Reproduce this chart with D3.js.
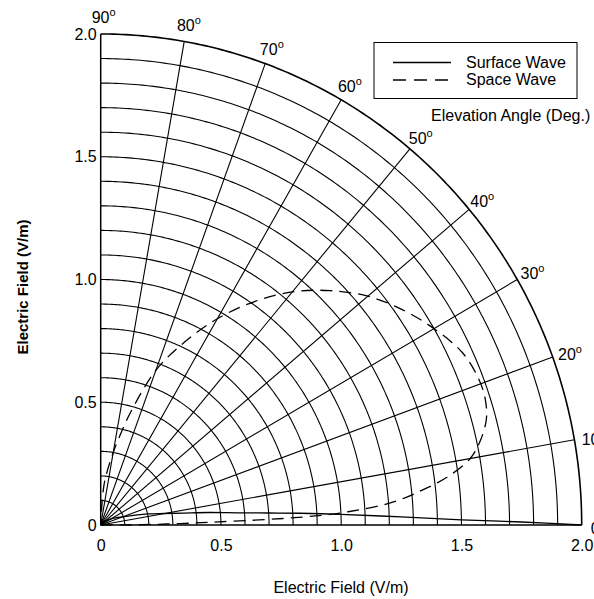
<!DOCTYPE html>
<html>
<head>
<meta charset="utf-8">
<script src="https://cdn.jsdelivr.net/npm/d3@7"></script>
<style>
  body { margin: 0; background: #fff; }
  svg { display: block; }
  text { font-family: "Liberation Sans", Arial, sans-serif; fill: #000; }
</style>
</head>
<body>
<svg id="chart" width="594" height="599"></svg>
<script>
// Elevation angles (degrees) and field strengths (V/m) for the two waves
const spaceAngles = [0, 0.5, 1, 1.5, 2, 2.5, 3, 4, 5, 6, 7, 8, 10, 12, 15, 18, 21, 25, 30, 35, 40, 45, 50, 55, 60, 65, 70, 75, 78, 80, 85, 90];
const spaceField  = [0, 0.17, 0.33, 0.49, 0.76, 0.93, 1.03, 1.18, 1.27, 1.34, 1.41, 1.47, 1.56, 1.61, 1.66, 1.68, 1.68, 1.66, 1.60, 1.53, 1.45, 1.35, 1.24, 1.11, 0.97, 0.82, 0.67, 0.47, 0.36, 0.30, 0.17, 0];

const surfaceAngles = [0, 0.4, 0.8, 1.5, 2.5, 3.3, 4, 5, 6.5, 8, 10, 13, 19, 30, 45, 90];
const surfaceField  = [2.0, 1.75, 1.5, 1.25, 1.0, 0.83, 0.7, 0.57, 0.45, 0.35, 0.27, 0.2, 0.105, 0.05, 0.02, 0];

// Grid and tick definitions
const ringValues = d3.range(1, 21).map(i => i / 10);
const spokeAngles = d3.range(0, 91, 10);
const fieldTicks = [0, 0.5, 1.0, 1.5, 2.0];

const svg = d3.select("#chart");
const x = d3.scaleLinear().domain([0, 2]).range([100.7, 581.7]);
const y = d3.scaleLinear().domain([0, 2]).range([525, 34]);
const rad = d => d * Math.PI / 180;
const pt = (r, deg) => [x(r * Math.cos(rad(deg))), y(r * Math.sin(rad(deg)))];

const g = svg.append("g");

// Concentric rings every 0.1 V/m
const arcLine = d3.line();
g.selectAll("path.ring").data(ringValues).join("path")
  .attr("class", "ring")
  .attr("fill", "none")
  .attr("stroke", "#000")
  .attr("stroke-width", r => r === 2 ? 1.6 : 1.1)
  .attr("d", r => arcLine(d3.range(0, 90.01, 0.5).map(a => pt(r, a))));

// Radial spokes every 10 degrees
g.selectAll("line.spoke").data(spokeAngles).join("line")
  .attr("class", "spoke")
  .attr("stroke", "#000")
  .attr("stroke-width", a => (a === 0 || a === 90) ? 1.5 : 1.1)
  .attr("x1", x(0)).attr("y1", y(0))
  .attr("x2", a => pt(2, a)[0])
  .attr("y2", a => pt(2, a)[1]);

// Angle labels around the outer ring
const angleLabels = svg.append("g").selectAll("text").data(spokeAngles).join("text")
  .attr("font-size", 16)
  .attr("x", a => pt(2, a)[0] + 9 * Math.cos(rad(a)) - 9 * Math.sin(rad(a)))
  .attr("y", a => pt(2, a)[1] - 16.5 * Math.sin(rad(a)) + 3 * Math.cos(rad(a)) + 5.5);
angleLabels.append("tspan").text(a => a);
angleLabels.append("tspan").attr("font-size", 11).attr("dy", -7).text("o");

// Field axes
const fmt = v => v === 0 ? "0" : v.toFixed(1);
const yAxis = svg.append("g").attr("transform", `translate(${x(0)},0)`)
  .call(d3.axisLeft(y).tickValues(fieldTicks).tickSize(0).tickPadding(4).tickFormat(fmt));
const xAxis = svg.append("g").attr("transform", `translate(0,${y(0)})`)
  .call(d3.axisBottom(x).tickValues(fieldTicks).tickSize(0).tickPadding(15).tickFormat(fmt));
[yAxis, xAxis].forEach(ax => {
  ax.select(".domain").remove();
  ax.selectAll("text").attr("font-size", 16).attr("font-family", "Liberation Sans, Arial, sans-serif").attr("fill", "#000");
});

// Field curves
const curve = d3.line().curve(d3.curveCatmullRom.alpha(0.5));
svg.append("path")
  .attr("fill", "none").attr("stroke", "#000").attr("stroke-width", 1.3)
  .attr("stroke-dasharray", "12,7")
  .attr("d", curve(spaceAngles.map((a, i) => pt(spaceField[i], a))));
svg.append("path")
  .attr("fill", "none").attr("stroke", "#000").attr("stroke-width", 1.3)
  .attr("d", curve(surfaceAngles.map((a, i) => pt(surfaceField[i], a))));

// Legend
const legend = svg.append("g");
legend.append("rect").attr("x", 374).attr("y", 42.5).attr("width", 203).attr("height", 56)
  .attr("fill", "#fff").attr("stroke", "#000").attr("stroke-width", 1);
legend.append("line").attr("x1", 393).attr("x2", 451).attr("y1", 62.5).attr("y2", 62.5)
  .attr("stroke", "#000").attr("stroke-width", 1.3);
legend.append("line").attr("x1", 393).attr("x2", 451).attr("y1", 80).attr("y2", 80)
  .attr("stroke", "#000").attr("stroke-width", 1.3).attr("stroke-dasharray", "13,8");
legend.append("text").attr("x", 466).attr("y", 67.5).attr("font-size", 16).text("Surface Wave");
legend.append("text").attr("x", 466).attr("y", 85).attr("font-size", 16).text("Space Wave");

svg.append("text").attr("x", 431).attr("y", 121).attr("font-size", 16).text("Elevation Angle (Deg.)");

// Axis titles
svg.append("text").attr("x", 341).attr("y", 593).attr("text-anchor", "middle")
  .attr("font-size", 16).text("Electric Field (V/m)");
svg.append("text").attr("transform", "translate(28,287) rotate(-90)").attr("text-anchor", "middle")
  .attr("font-size", 15).attr("font-weight", "bold").text("Electric Field (V/m)");
</script>
</body>
</html>
